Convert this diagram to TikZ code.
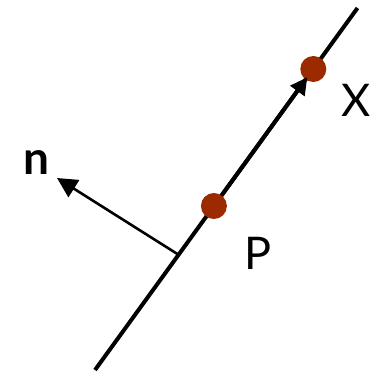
\documentclass[tikz,border=0pt]{standalone}
\usepackage{fontspec}
\setmainfont{Lato}
\usetikzlibrary{arrows.meta}
\definecolor{dotred}{RGB}{155,42,0}
\tikzset{
  pointdot/.style={circle,fill=dotred,minimum size=26pt,inner sep=0pt},
  mainline/.style={line width=4pt,draw=black},
  dirarrow/.style={-{Triangle[length=17pt,width=17pt]},line width=4pt,draw=black,shorten >=-3pt},
  normarrow/.style={-{Triangle[length=20pt,width=20pt]},line width=2.6pt,draw=black},
  ptlabel/.style={font=\fontsize{45}{48}\selectfont,inner sep=0pt}
}
\begin{document}
\begin{tikzpicture}[x=1pt,y=-1pt]
  \useasboundingbox (0,0) rectangle (372,375);
  % line through P and X
  \coordinate (lineS) at (95,370);
  \coordinate (lineE) at (357.5,8);
  \draw[mainline] (lineS) -- (lineE);
  \coordinate (foot) at (179,255);
  \node[pointdot] (P) at (213.9,206) {};
  \node[pointdot] (X) at (313.3,69) {};
  \draw[dirarrow] (P) -- (X);
  % normal
  \node[font=\fontsize{46}{50}\selectfont\bfseries,inner sep=0pt] (nlab) at (36,163) {n};
  \coordinate (ntip) at (57,178);
  \draw[normarrow] (foot) -- (ntip);
  \node[ptlabel] (Plab) at (258,253) {P};
  \node[ptlabel] (Xlab) at (356,100) {X};
\end{tikzpicture}
\end{document}
